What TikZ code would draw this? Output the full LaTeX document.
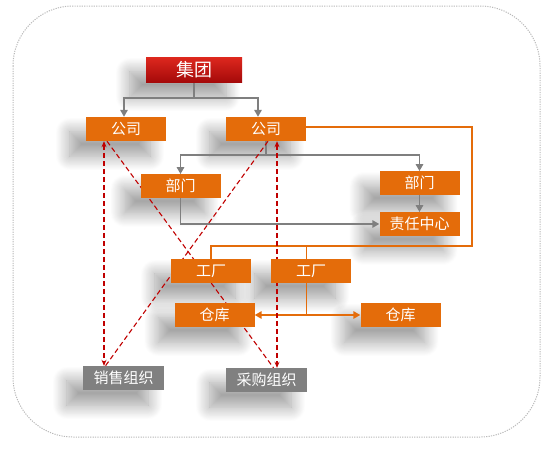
\documentclass[tikz,border=0pt]{standalone}
\usepackage{fontspec}
\setmainfont{Noto Sans CJK SC}
\usetikzlibrary{arrows.meta,shadows.blur,calc}
\pgfdeclarelayer{shl}\pgfdeclarelayer{lnl}
\pgfsetlayers{shl,lnl,main}
\definecolor{orng}{RGB}{228,108,10}
\definecolor{gline}{RGB}{127,127,127}
\definecolor{gbox}{RGB}{128,128,128}
\definecolor{rdash}{RGB}{192,0,0}
\definecolor{framec}{RGB}{185,185,185}
\definecolor{redtop}{RGB}{222,40,30}
\definecolor{redbot}{RGB}{165,10,10}
\begin{document}
\begin{tikzpicture}[x=1pt,y=-1pt,
  box/.style={fill=orng, text=white, minimum width=80pt, minimum height=24pt, inner sep=0pt, font=\fontsize{15}{17}\selectfont},
  graybox/.style={box, fill=gbox, minimum width=81pt},
  redbox/.style={box, minimum width=96pt, minimum height=25pt, shading=axis, top color=redtop, bottom color=redbot, font=\fontsize{18}{20}\selectfont},
  garrow/.style={draw=gline, line width=1.6pt, -{Triangle[width=7.5pt,length=7pt]}},
  oline/.style={draw=orng, line width=1.6pt},
  oarrow/.style={oline, {Triangle[width=7.5pt,length=7pt]}-{Triangle[width=7.5pt,length=7pt]}},
  rd/.style={draw=rdash, line width=1.1pt, dash pattern=on 5pt off 3pt},
  rda/.style={rd, {Stealth[length=6pt,width=5pt]}-{Stealth[length=6pt,width=5pt]}},
  shad/.style={blur shadow={shadow xshift=-16pt, shadow yshift=-15pt, shadow blur radius=14pt, shadow blur steps=16, shadow opacity=38}}
]
\useasboundingbox (0,0) rectangle (555,456);
\draw[framec, line width=1pt, dash pattern=on 1.2pt off 1.2pt, rounded corners=60pt] (13,6) rectangle (540,437);

\node[redbox] (jt) at (194,69.5) {集团};
\node[box] (gs1) at (126,129) {公司};
\node[box] (gs2) at (266,129) {公司};
\node[box, minimum height=23.5pt] (bm1) at (180.5,186) {部门};
\node[box, minimum height=23.5pt] (bm2) at (419.5,183) {部门};
\node[box, minimum height=23.5pt] (zr) at (419.5,224) {责任中心};
\node[box] (gc1) at (211,271) {工厂};
\node[box] (gc2) at (311,271) {工厂};
\node[box] (ck1) at (214.5,315) {仓库};
\node[box] (ck2) at (400.5,315) {仓库};
\node[graybox] (xs) at (123.5,378) {销售组织};
\node[graybox] (cg) at (266.5,380) {采购组织};

\begin{pgfonlayer}{shl}
\foreach \n in {jt,gs1,gs2,bm1,bm2,zr,gc1,gc2,ck1,ck2,xs,cg}
  \path[shad] (\n.south west) rectangle (\n.north east);
\end{pgfonlayer}

\begin{pgfonlayer}{lnl}
\coordinate (oc) at (472,246);
% gray connectors
\draw[garrow] (jt.south) -- ++(0,16) -| ([xshift=-2pt]gs1.north);
\draw[garrow] (jt.south) -- ++(0,16) -| ([xshift=-8pt]gs2.north);
\draw[garrow] (gs2.south) -- ++(0,14) -| (bm1.north);
\draw[garrow] (gs2.south) -- ++(0,14) -| (bm2.north);
\draw[garrow] (bm1.south) |- (zr.west);
\draw[garrow] (bm2.south) -- (zr.north);
% orange connectors
\draw[oline] ([yshift=2pt]gs2.east) -| (oc) -| (gc1.north);
\draw[oline] ([xshift=-4.5pt]gc2.north) -- ([xshift=-4.5pt]gc2.north |- oc);
\draw[oline] ([xshift=-4.5pt]gc2.south) -- ([xshift=-4.5pt]gc2.south |- ck1.east);
\draw[oarrow] (ck1.east) -- (ck2.west);
% red dashed
\draw[rda] ([xshift=-22pt]gs1.south) -- ([xshift=-22pt]gs1.south |- xs.north);
\draw[rd] ([xshift=-19pt]gs1.south) -- ([xshift=7pt]cg.north);
\draw[rd] ([xshift=2pt]gs2.south) -- ([xshift=-18pt]xs.north);
\draw[rda] ([xshift=11pt]gs2.south) -- ([xshift=11pt]gs2.south |- cg.north);
\end{pgfonlayer}
\end{tikzpicture}
\end{document}
